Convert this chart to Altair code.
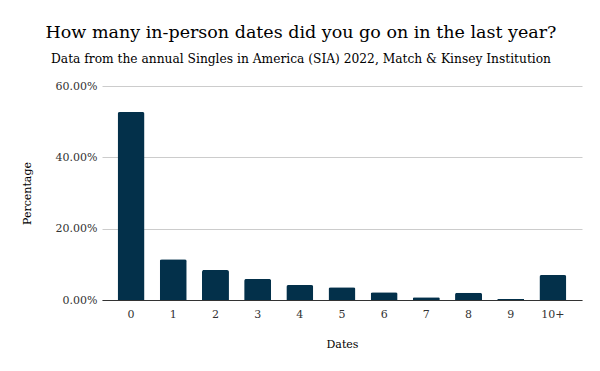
import altair as alt
import pandas as pd

dates = ["0", "1", "2", "3", "4", "5", "6", "7", "8", "9", "10+"]
percentage = [0.527, 0.114, 0.084, 0.059, 0.042, 0.036, 0.022, 0.008, 0.020, 0.003, 0.070]
y_ticks = [0.0, 0.2, 0.4, 0.6]

df = pd.DataFrame({"Dates": dates, "Percentage": percentage})

FONT = "DejaVu Serif"

chart = (
    alt.Chart(df)
    .mark_bar(color="#03304a", cornerRadiusTopLeft=2, cornerRadiusTopRight=2)
    .encode(
        x=alt.X(
            "Dates:N",
            sort=dates,
            scale=alt.Scale(paddingInner=0.36, paddingOuter=0.37),
            axis=alt.Axis(
                title="Dates",
                labelAngle=0,
                ticks=False,
                domainColor="#333333",
                labelPadding=8,
                titlePadding=19,
            ),
        ),
        y=alt.Y(
            "Percentage:Q",
            scale=alt.Scale(domain=[0, 0.6], nice=False),
            axis=alt.Axis(
                title="Percentage",
                values=y_ticks,
                format=".2%",
                domain=False,
                ticks=False,
                gridColor="#cccccc",
                labelPadding=5,
                titlePadding=23,
            ),
        ),
    )
    .properties(
        width=480,
        height=214,
        autosize=alt.AutoSizeParams(type="none"),
        padding={"left": 94, "top": 78, "right": 10, "bottom": 71},
        title=alt.TitleParams(
            text="How many in-person dates did you go on in the last year?",
            subtitle="Data from the annual Singles in America (SIA) 2022, Match & Kinsey Institution",
            anchor="middle",
            dx=-41,
            offset=15,
            font=FONT,
            fontSize=17.5,
            fontWeight="normal",
            color="#000000",
            subtitleFont=FONT,
            subtitleFontSize=12.25,
            subtitleColor="#000000",
            subtitlePadding=11,
        ),
    )
    .configure_view(stroke=None)
    .configure_axis(
        labelFont=FONT,
        labelFontSize=11,
        labelColor="#333333",
        titleFont=FONT,
        titleFontSize=11,
        titleFontWeight="normal",
        titleColor="#000000",
    )
)

chart.save("out.html", embed_options={"renderer": "svg", "actions": False})
